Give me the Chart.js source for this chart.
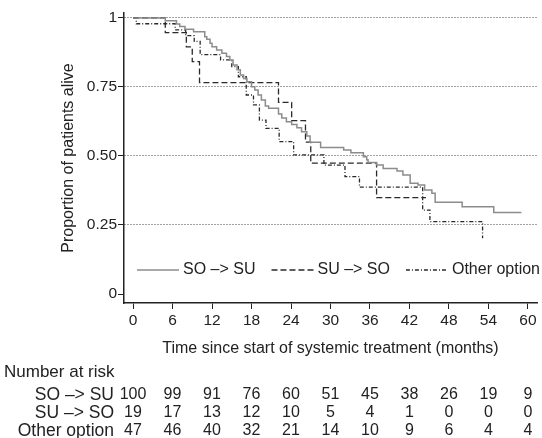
<!DOCTYPE html>
<html>
<head>
<meta charset="utf-8">
<script src="https://cdn.jsdelivr.net/npm/chart.js@4.4.1/dist/chart.umd.min.js"></script>
<style>
  html, body { margin: 0; padding: 0; background: #ffffff; }
  #wrap { width: 542px; height: 438px; position: relative; }
</style>
</head>
<body>
<div id="wrap"><canvas id="c"></canvas></div>
<script>
// ---------- data ----------
const groupLabels = ['SO \u2013> SU', 'SU \u2013> SO', 'Other option'];

const soSuTime = [0, 4.9, 6.6, 7.1, 7.9, 9.2, 10.9, 11.2, 11.7, 12.0, 12.7, 13.5, 14.2, 14.7, 15.2, 15.8, 16.3, 16.8, 17.3, 18.0, 18.5, 19.0, 19.5, 20.1, 20.6, 22.1, 22.6, 23.3, 24.1, 24.9, 25.6, 26.4, 26.9, 28.5, 32.0, 33.1, 35.0, 35.5, 35.7, 37.0, 38.0, 40.1, 41.0, 42.1, 43.3, 44.3, 45.4, 45.9, 50.0, 54.8, 59.0];
const soSuSurv = [1.0, 0.990, 0.978, 0.969, 0.959, 0.950, 0.932, 0.923, 0.908, 0.896, 0.884, 0.872, 0.860, 0.848, 0.830, 0.812, 0.793, 0.781, 0.769, 0.751, 0.739, 0.721, 0.703, 0.681, 0.673, 0.652, 0.638, 0.624, 0.614, 0.602, 0.588, 0.572, 0.550, 0.531, 0.522, 0.512, 0.497, 0.486, 0.476, 0.467, 0.455, 0.446, 0.431, 0.401, 0.395, 0.377, 0.365, 0.332, 0.316, 0.295, 0.295];

const suSoTime = [0, 4.9, 8.1, 9.0, 10.1, 22.1, 24.1, 26.2, 27.0, 37.0, 44.5];
const suSoSurv = [1.0, 0.947, 0.895, 0.842, 0.766, 0.694, 0.628, 0.550, 0.474, 0.349, 0.349];

const otherTime = [0, 0.5, 6.4, 8.0, 9.3, 10.2, 13.3, 15.0, 16.0, 17.2, 18.3, 19.2, 20.2, 22.2, 24.4, 29.0, 32.2, 34.4, 44.0, 45.1, 53.1];
const otherSurv = [1.0, 0.979, 0.957, 0.936, 0.915, 0.867, 0.848, 0.824, 0.787, 0.721, 0.685, 0.630, 0.600, 0.552, 0.504, 0.467, 0.425, 0.387, 0.304, 0.262, 0.202];

const xTicks = [0, 6, 12, 18, 24, 30, 36, 42, 48, 54, 60];
const yTicks = [0, 0.25, 0.5, 0.75, 1];
const yTickLabels = ['0', '0.25', '0.50', '0.75', '1'];

const riskTitle = 'Number at risk';
const riskSoSu = [100, 99, 91, 76, 60, 51, 45, 38, 26, 19, 9];
const riskSuSo = [19, 17, 13, 12, 10, 5, 4, 1, 0, 0, 0];
const riskOther = [47, 46, 40, 32, 21, 14, 10, 9, 6, 4, 4];

const xTitle = 'Time since start of systemic treatment (months)';
const yTitle = 'Proportion of patients alive';

// ---------- chart ----------
const FONT = '"Liberation Sans", Arial, Helvetica, sans-serif';
const INK = '#222222';

function pts(t, s) { return t.map((x, i) => ({ x: x, y: s[i] })); }

const extras = {
  id: 'kmExtras',
  afterDraw(chart) {
    const ctx = chart.ctx;
    const xs = chart.scales.x;
    ctx.save();
    ctx.font = '16px ' + FONT;
    ctx.textBaseline = 'middle';
    // legend inside plot
    let lx = 137;
    const ly = 270;
    chart.data.datasets.forEach(ds => {
      ctx.strokeStyle = ds.borderColor;
      ctx.lineWidth = ds.borderWidth;
      ctx.setLineDash(ds.borderDash || []);
      ctx.beginPath();
      ctx.moveTo(lx, ly);
      ctx.lineTo(lx + 42, ly);
      ctx.stroke();
      ctx.setLineDash([]);
      ctx.fillStyle = INK;
      ctx.textAlign = 'left';
      ctx.fillText(ds.label, lx + 46, ly);
      lx += 46 + ctx.measureText(ds.label).width + 16;
    });
    // number at risk table
    ctx.fillStyle = INK;
    ctx.font = '17px ' + FONT;
    ctx.textAlign = 'left';
    ctx.fillText(riskTitle, 4, 372);
    [riskSoSu, riskSuSo, riskOther].forEach((row, r) => {
      const y = 395 + r * 18;
      ctx.font = '17.5px ' + FONT;
      ctx.textAlign = 'right';
      ctx.fillText(groupLabels[r], 114, y);
      ctx.font = '16px ' + FONT;
      ctx.textAlign = 'center';
      row.forEach((n, i) => ctx.fillText(String(n), xs.getPixelForValue(xTicks[i]), y));
    });
    ctx.restore();
  }
};

new Chart(document.getElementById('c'), {
  type: 'line',
  data: {
    datasets: [
      { label: groupLabels[0], data: pts(soSuTime, soSuSurv), borderColor: '#8c8c8c', borderWidth: 1.5, borderDash: [], stepped: 'before', pointRadius: 0, fill: false },
      { label: groupLabels[1], data: pts(suSoTime, suSoSurv), borderColor: '#2a2a2a', borderWidth: 1.3, borderDash: [6, 3], stepped: 'before', pointRadius: 0, fill: false },
      { label: groupLabels[2], data: pts(otherTime, otherSurv), borderColor: '#2a2a2a', borderWidth: 1.3, borderDash: [4, 2, 1, 2], stepped: 'before', pointRadius: 0, fill: false }
    ]
  },
  options: {
    responsive: true,
    maintainAspectRatio: false,
    animation: false,
    layout: { padding: { left: 0, right: 5, top: 13, bottom: 79 } },
    plugins: { legend: { display: false }, tooltip: { enabled: false } },
    scales: {
      x: {
        type: 'linear',
        min: -1.37, max: 61.37,
        afterFit: s => { s.height = 56; },
        afterBuildTicks: s => { s.ticks = xTicks.map(v => ({ value: v })); },
        ticks: { color: INK, font: { family: FONT, size: 15.5 }, padding: 2, maxRotation: 0, autoSkip: false, callback: v => String(v) },
        grid: { drawOnChartArea: false, drawTicks: true, tickLength: 6, color: INK, tickColor: INK, tickWidth: 1 },
        border: { display: true, color: INK, width: 1.5 },
        title: { display: true, text: xTitle, color: INK, font: { family: FONT, size: 16 }, padding: { top: 0, bottom: 1 } }
      },
      y: {
        type: 'linear',
        min: -0.0326, max: 1.018,
        afterFit: s => { s.width = 124; },
        afterBuildTicks: s => { s.ticks = yTicks.map(v => ({ value: v })); },
        ticks: { color: INK, font: { family: FONT, size: 15.5 }, padding: 1, autoSkip: false, callback: (v, i) => yTickLabels[i] },
        grid: {
          drawOnChartArea: true, drawTicks: true, tickLength: 6, lineWidth: 1,
          color: c => (c.tick && c.tick.value === 0 ? 'rgba(0,0,0,0)' : '#444444'),
          tickColor: INK, tickWidth: 1, tickBorderDash: []
        },
        border: { display: true, color: INK, width: 1.5, dash: [1, 2] },
        title: { display: true, text: yTitle, color: INK, font: { family: FONT, size: 16 }, padding: { top: 59, bottom: 0 } }
      }
    }
  },
  plugins: [extras]
});
</script>
</body>
</html>
